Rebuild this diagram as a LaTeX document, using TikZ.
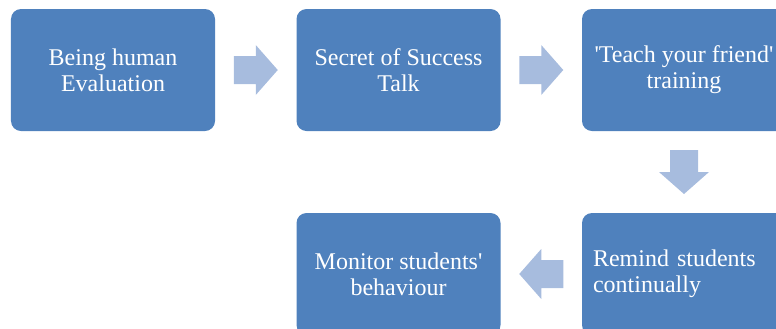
\documentclass[tikz,border=0pt]{standalone}
\usepackage{fontspec}
\setmainfont{Liberation Serif}
\usetikzlibrary{calc}

\definecolor{boxblue}{RGB}{79,129,189}
\definecolor{arrowblue}{RGB}{167,188,222}

\begin{document}
\begin{tikzpicture}
[x=1bp,y=-1bp
,stagebox/.style={fill=boxblue,rounded corners=10bp,inner sep=0pt,minimum width=204bp,minimum height=122bp,text=white,align=center,font=\rmfamily\fontsize{24bp}{26bp}\selectfont}
,flowarrow/.style={fill=arrowblue}
]
\useasboundingbox (0,0) rectangle (776,328);
\clip (0,0) rectangle (776,328);

\node[stagebox] (being)   at (113,70)   {Being human\\Evaluation};
\node[stagebox] (secret)  at (398.5,70) {Secret of Success\\Talk};
\node[stagebox] (teach)   at (684,70)   {\textquotesingle Teach your friend\textquotesingle\\training};
\node[stagebox,text width=182bp,align=left] (remind) at (684,274) {Remind students\\continually};
\node[stagebox] (monitor) at (398.5,274) {Monitor students\textquotesingle\\behaviour};

\coordinate (a1) at ($(being.east)!0.5!(secret.west)$);
\coordinate (a2) at ($(secret.east)!0.5!(teach.west)$);
\coordinate (a3) at ($(teach.south)!0.5!(remind.north)$);
\coordinate (a4) at ($(remind.west)!0.5!(monitor.east)$);

\foreach \at/\turn in {a1/0,a2/0,a3/-90,a4/180}
  \fill[flowarrow,shift={(\at)},rotate=\turn]
    (-22,-14) -- (0,-14) -- (0,-25) -- (22,0) -- (0,25) -- (0,14) -- (-22,14) -- cycle;

\end{tikzpicture}
\end{document}
